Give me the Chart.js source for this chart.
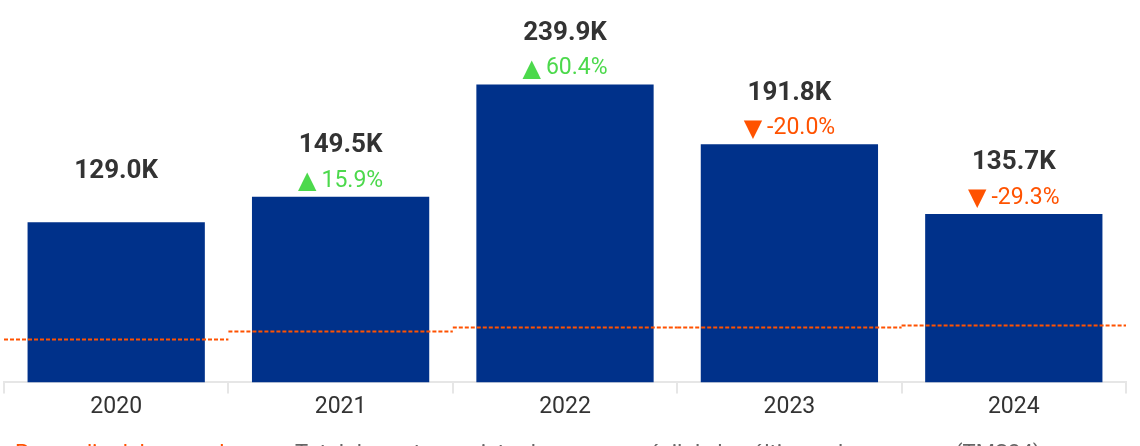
<!DOCTYPE html>
<html>
<head>
<meta charset="utf-8">
<script src="https://cdn.jsdelivr.net/npm/chart.js@4/dist/chart.umd.min.js"></script>
<style>
  html, body { margin: 0; padding: 0; background: #fff; overflow: hidden; }
  #wrap { position: relative; width: 1140px; height: 446px; }
</style>
</head>
<body>
<div id="wrap"><canvas id="chart"></canvas></div>
<script>
// Yearly totals
const years = ['2020', '2021', '2022', '2023', '2024'];
const sales = [129000, 149500, 239900, 191800, 135700];
// Change vs previous year (%)
const growth = [null, 15.9, 60.4, -20.0, -29.3];
// Market average per year (dashed reference)
const marketAvg = [34700, 41200, 44700, 44700, 46000];

const BAR_COLOR = '#00318A';
const UP_COLOR = '#4CD94C';
const DOWN_COLOR = '#FF5200';
const TEXT_COLOR = '#333333';

// Dashed average segment across each year slot
const avgLinePlugin = {
  id: 'avgLine',
  afterDatasetsDraw(chart) {
    const { ctx, scales: { x, y } } = chart;
    const step = x.width / years.length;
    ctx.save();
    ctx.strokeStyle = DOWN_COLOR;
    ctx.lineWidth = 2;
    ctx.setLineDash([4, 2]);
    marketAvg.forEach((v, i) => {
      const cx = x.getPixelForValue(i);
      const py = Math.round(y.getPixelForValue(v)) + 0.5;
      ctx.beginPath();
      ctx.moveTo(cx - step / 2, py);
      ctx.lineTo(cx + step / 2, py);
      ctx.stroke();
    });
    ctx.restore();
  }
};

// Value and growth labels above bars
const labelPlugin = {
  id: 'barLabels',
  afterDatasetsDraw(chart) {
    const { ctx } = chart;
    const meta = chart.getDatasetMeta(0);
    ctx.save();
    ctx.textBaseline = 'middle';
    meta.data.forEach((bar, i) => {
      ctx.textAlign = 'center';
      ctx.font = 'bold 26px Roboto';
      ctx.fillStyle = TEXT_COLOR;
      ctx.fillText((sales[i] / 1000).toFixed(1) + 'K', bar.x, bar.y - 51);

      const g = growth[i];
      if (g === null) return;
      const up = g >= 0;
      const arrow = up ? '\u25B2' : '\u25BC';
      const txt = (up ? '' : '-') + Math.abs(g).toFixed(1) + '%';
      ctx.font = '24px "DejaVu Sans"';
      const wArrow = ctx.measureText(arrow).width + 5;
      ctx.font = '23px Roboto';
      const wTxt = ctx.measureText(txt).width;
      const left = bar.x - (wArrow + wTxt) / 2;
      ctx.fillStyle = up ? UP_COLOR : DOWN_COLOR;
      ctx.textAlign = 'left';
      ctx.fillText(txt, left + wArrow, bar.y - 16);
      ctx.font = '24px "DejaVu Sans"';
      ctx.fillText(arrow, left, bar.y - 15);
    });
    ctx.restore();
  }
};

// Footnote line under the axis
const notePlugin = {
  id: 'note',
  afterDraw(chart) {
    const { ctx } = chart;
    ctx.save();
    ctx.font = '22px Roboto';
    ctx.textBaseline = 'alphabetic';
    ctx.textAlign = 'left';
    ctx.fillStyle = DOWN_COLOR;
    ctx.fillText('Promedio del mercado', 15, 460);
    ctx.fillStyle = '#666666';
    ctx.fillText('Total de ventas registradas, suma móvil de los últimos doce meses (TMS24)', 295, 460);
    ctx.restore();
  }
};

new Chart(document.getElementById('chart'), {
  type: 'bar',
  data: {
    labels: years,
    datasets: [{
      data: sales,
      backgroundColor: BAR_COLOR,
      borderWidth: 0,
      barPercentage: 0.79,
      categoryPercentage: 1
    }]
  },
  options: {
    responsive: true,
    maintainAspectRatio: false,
    animation: false,
    layout: { padding: { top: 10, left: 4, right: 14, bottom: 25 } },
    plugins: {
      legend: { display: false },
      tooltip: { enabled: false }
    },
    scales: {
      x: {
        grid: {
          offset: true,
          drawOnChartArea: false,
          tickLength: 11,
          color: '#E6E6E6',
          lineWidth: 2
        },
        border: { color: '#E6E6E6', width: 2 },
        ticks: {
          color: TEXT_COLOR,
          font: { family: 'Roboto', size: 23 },
          padding: 0
        }
      },
      y: {
        display: false,
        min: 0,
        max: 300000
      }
    }
  },
  plugins: [avgLinePlugin, labelPlugin, notePlugin]
});
</script>
</body>
</html>
